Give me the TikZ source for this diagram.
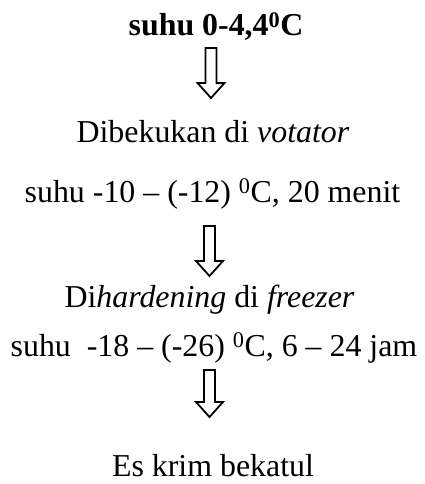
\documentclass[tikz,border=0pt]{standalone}
\usepackage{fontspec}
\setmainfont{Liberation Serif}
\begin{document}
\begin{tikzpicture}[x=1bp,y=-1bp,
  txt/.style={anchor=base,inner sep=0pt,font=\fontsize{32}{38}\selectfont},
  blockarrow/.style={draw=black,fill=white,line width=1.8bp,line join=miter}]
\useasboundingbox (0,0) rectangle (424,484);
% texts
\node[txt,font=\fontsize{32}{38}\selectfont\bfseries] (t1) at (216,36) {suhu 0-4,4\textsuperscript{0}C};
\node[txt] (t2) at (213,143) {Dibekukan di \textit{votator}};
\node[txt] (t3) at (212.5,202) {suhu -10 -- (-12) \textsuperscript{0}C, 20 menit};
\node[txt] (t4) at (209.5,307) {Di\textit{hardening} di \textit{freezer}};
\node[txt] (t5) at (214,356) {suhu\ \ -18 -- (-26) \textsuperscript{0}C, 6 -- 24 jam};
\node[txt] (t6) at (213,476) {Es krim bekatul};
% block arrows
\newcommand{\blockarr}[4]{% x center, top, head base, tip
  \draw[blockarrow] (#1-5.5,#2) -- (#1+5.5,#2) -- (#1+5.5,#3) -- (#1+13.5,#3)
    -- (#1,#4) -- (#1-13.5,#3) -- (#1-5.5,#3) -- cycle;}
\blockarr{211}{48}{83}{98}
\blockarr{209.5}{226}{261}{276}
\blockarr{209.5}{370}{402}{417}
\end{tikzpicture}
\end{document}
